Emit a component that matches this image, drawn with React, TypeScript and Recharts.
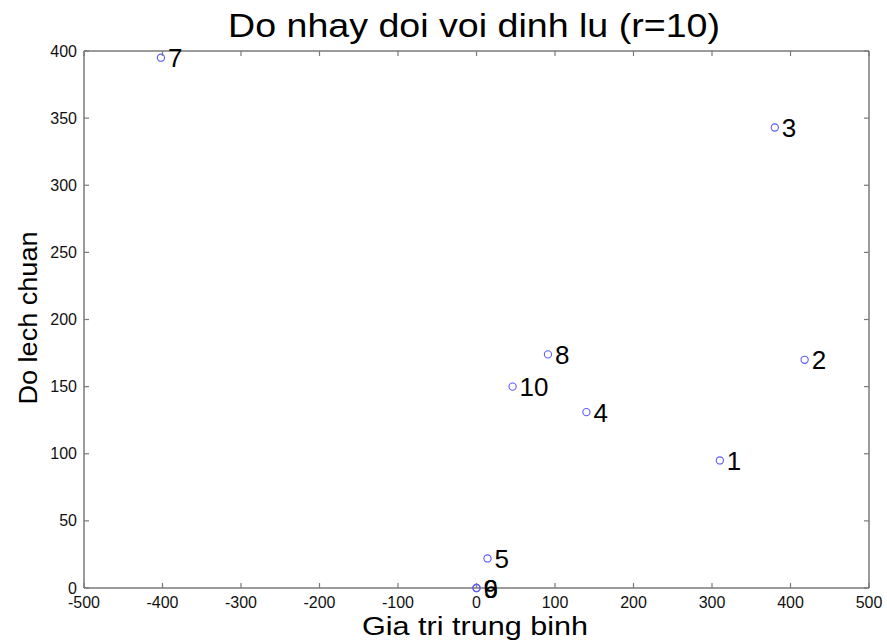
import { ScatterChart, Scatter, XAxis, YAxis } from "recharts";

// mean value (x) and std deviation (y) for each node
const nodeLabels = ["1", "2", "3", "4", "5", "6", "7", "8", "9", "10"];
const meanValues = [310, 418, 380, 140, 14, 0, -402, 91, 0, 46];
const stdValues = [95, 170, 343, 131, 22, 0, 395, 174, 0, 150];

const xTicks = [-500, -400, -300, -200, -100, 0, 100, 200, 300, 400, 500];
const yTicks = [0, 50, 100, 150, 200, 250, 300, 350, 400];

const points = nodeLabels.map((label, i) => ({
  label,
  x: meanValues[i],
  y: stdValues[i],
}));

const FONT = '"Liberation Sans", Arial, sans-serif';
const AXIS = "#7a7a7a";

function BottomTick(props: any) {
  const { x, y, payload } = props;
  return (
    <g>
      <line x1={x} x2={x} y1={y} y2={y - 5} stroke={AXIS} strokeWidth={1.2} />
      <text x={x} y={y + 20} textAnchor="middle" fontSize={16} fontFamily={FONT} fill="#111">
        {payload.value}
      </text>
    </g>
  );
}

function TopTick(props: any) {
  const { x, y } = props;
  return <line x1={x} x2={x} y1={y} y2={y + 5} stroke={AXIS} strokeWidth={1.2} />;
}

function LeftTick(props: any) {
  const { x, y, payload } = props;
  return (
    <g>
      <line x1={x} x2={x + 5} y1={y} y2={y} stroke={AXIS} strokeWidth={1.2} />
      <text x={x - 7} y={y + 5.5} textAnchor="end" fontSize={16} fontFamily={FONT} fill="#111">
        {payload.value}
      </text>
    </g>
  );
}

function RightTick(props: any) {
  const { x, y } = props;
  return <line x1={x} x2={x - 5} y1={y} y2={y} stroke={AXIS} strokeWidth={1.2} />;
}

function Marker(props: any) {
  const { cx, cy, payload } = props;
  return (
    <g>
      <circle cx={cx} cy={cy} r={3.6} fill="none" stroke="#5a5aff" strokeWidth={1.1} />
      <text x={cx + 7} y={cy + 9.5} fontSize={26} fontFamily={FONT} fill="#000">
        {payload.label}
      </text>
    </g>
  );
}

export default function App() {
  return (
    <div style={{ position: "absolute", left: 0, top: 0, width: 887, height: 642, background: "#fff" }}>
      <ScatterChart
        width={887}
        height={642}
        margin={{ top: 50, right: 17, bottom: 53, left: 83 }}
      >
        <XAxis
          type="number"
          dataKey="x"
          domain={[-500, 500]}
          ticks={xTicks}
          height={1}
          tickSize={0}
          tickMargin={0}
          tickLine={false}
          tick={<BottomTick />}
          axisLine={{ stroke: AXIS, strokeWidth: 1.5 }}
        />
        <XAxis
          xAxisId="top"
          orientation="top"
          type="number"
          dataKey="x"
          domain={[-500, 500]}
          ticks={xTicks}
          height={1}
          tickSize={0}
          tickMargin={0}
          tickLine={false}
          tick={<TopTick />}
          axisLine={{ stroke: AXIS, strokeWidth: 1.5 }}
        />
        <YAxis
          type="number"
          dataKey="y"
          domain={[0, 400]}
          ticks={yTicks}
          width={1}
          tickSize={0}
          tickMargin={0}
          tickLine={false}
          tick={<LeftTick />}
          axisLine={{ stroke: AXIS, strokeWidth: 1.5 }}
        />
        <YAxis
          yAxisId="right"
          orientation="right"
          type="number"
          dataKey="y"
          domain={[0, 400]}
          ticks={yTicks}
          width={1}
          tickSize={0}
          tickMargin={0}
          tickLine={false}
          tick={<RightTick />}
          axisLine={{ stroke: AXIS, strokeWidth: 1.5 }}
        />
        <Scatter data={points} shape={<Marker />} isAnimationActive={false} />
        <Scatter
          data={points}
          xAxisId="top"
          yAxisId="right"
          shape={() => <g />}
          isAnimationActive={false}
        />
      </ScatterChart>
      <svg
        width={887}
        height={642}
        style={{ position: "absolute", left: 0, top: 0, pointerEvents: "none" }}
      >
        <text
          x={474}
          y={37}
          textAnchor="middle"
          fontSize={33}
          fontFamily={FONT}
          textLength={492}
          lengthAdjust="spacingAndGlyphs"
          fill="#000"
        >
          Do nhay doi voi dinh lu (r=10)
        </text>
        <text
          x={475}
          y={635}
          textAnchor="middle"
          fontSize={25}
          fontFamily={FONT}
          textLength={226}
          lengthAdjust="spacingAndGlyphs"
          fill="#000"
        >
          Gia tri trung binh
        </text>
        <text
          x={0}
          y={0}
          transform="translate(37 318) rotate(-90)"
          textAnchor="middle"
          fontSize={25}
          fontFamily={FONT}
          textLength={173}
          lengthAdjust="spacingAndGlyphs"
          fill="#000"
        >
          Do lech chuan
        </text>
      </svg>
    </div>
  );
}
